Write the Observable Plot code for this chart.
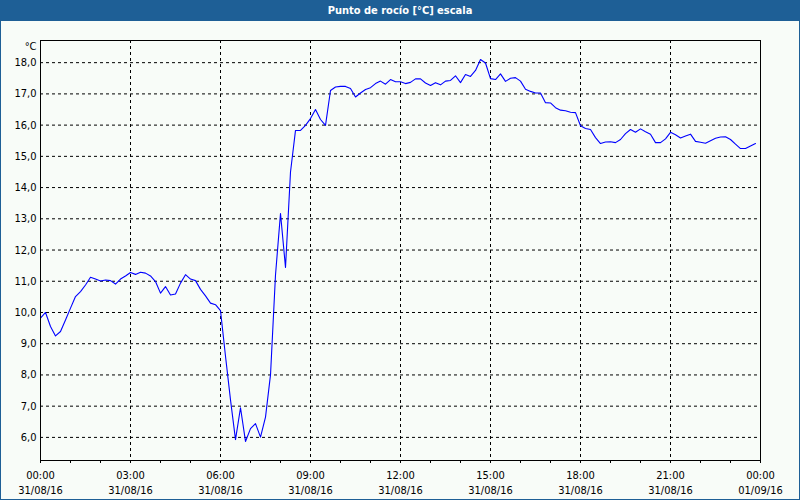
<!DOCTYPE html>
<html>
<head>
<meta charset="utf-8">
<script src="https://cdn.jsdelivr.net/npm/d3@7"></script>
<script src="https://cdn.jsdelivr.net/npm/@observablehq/plot@0.6"></script>
<style>
  html, body { margin: 0; padding: 0; background: #ffffff; }
  #wrap { position: relative; width: 800px; height: 500px; background: #f8fcf8; overflow: hidden;
          font-family: "DejaVu Sans", sans-serif; font-stretch: 87.5%; }
  #title { position: absolute; left: 0; top: 0; width: 800px; height: 21px; background: #1e5f96;
           color: #ffffff; font-weight: bold; font-size: 11px; line-height: 21px; text-align: center; }
  #chart { position: absolute; left: 0; top: 21px; }
  #border { position: absolute; left: 0; top: 0; width: 800px; height: 500px; box-sizing: border-box;
            border: 1px solid #1e5f96; pointer-events: none; }
  #chart svg { font-stretch: 87.5%; }
</style>
</head>
<body>
<div id="wrap">
  <div id="title"></div>
  <div id="chart"></div>
  <div id="border"></div>
</div>
<script>
// ---- data ----
const chartTitle = "Punto de rocío [°C] escala";
const unitLabel = ["°C"];
const startTime = "00:00 31/08/16";
const stepMinutes = 10; // sampling interval of the series
// dew point values (°C), one per 10 minutes from 00:00
const values = [
  9.82, 10.00, 9.55, 9.25, 9.39, 9.76,      // 00h
  10.14, 10.51, 10.67, 10.88, 11.13, 11.07, // 01h
  11.01, 11.04, 11.02, 10.91, 11.07, 11.17, // 02h
  11.28, 11.22, 11.29, 11.26, 11.17, 10.99, // 03h
  10.62, 10.83, 10.56, 10.59, 10.94, 11.21, // 04h
  11.07, 11.02, 10.74, 10.53, 10.30, 10.25, // 05h
  10.06, 8.60, 7.20, 5.93, 6.95, 5.87,      // 06h
  6.28, 6.44, 6.01, 6.65, 8.00, 11.20,      // 07h
  13.17, 11.44, 14.50, 15.83, 15.83, 15.99, // 08h
  16.21, 16.50, 16.18, 15.99, 17.11, 17.22, // 09h
  17.24, 17.24, 17.17, 16.90, 17.03, 17.14, // 10h
  17.20, 17.33, 17.41, 17.31, 17.46, 17.39, // 11h
  17.39, 17.33, 17.37, 17.48, 17.48, 17.35, // 12h
  17.27, 17.36, 17.29, 17.41, 17.43, 17.58, // 13h
  17.36, 17.62, 17.56, 17.75, 18.10, 17.99, // 14h
  17.49, 17.46, 17.64, 17.40, 17.50, 17.52, // 15h
  17.41, 17.15, 17.08, 17.03, 17.03, 16.72, // 16h
  16.71, 16.56, 16.48, 16.46, 16.41, 16.40, // 17h
  15.98, 15.89, 15.86, 15.60, 15.41, 15.46, // 18h
  15.47, 15.44, 15.54, 15.73, 15.86, 15.77, // 19h
  15.88, 15.79, 15.71, 15.44, 15.44, 15.56, // 20h
  15.77, 15.69, 15.59, 15.65, 15.71, 15.48, // 21h
  15.45, 15.42, 15.50, 15.58, 15.62, 15.63, // 22h
  15.54, 15.39, 15.25, 15.25, 15.33, 15.41  // 23h
];
// y ticks
const yTicks = [6, 7, 8, 9, 10, 11, 12, 13, 14, 15, 16, 17, 18];
// x ticks (minutes since start)
const xMajorTicks = [0, 180, 360, 540, 720, 900, 1080, 1260, 1440];
const xMinorTicks = [0,60,120,180,240,300,360,420,480,540,600,660,720,780,840,900,960,1020,1080,1140,1200,1260,1320,1380,1440];
const xTimeLabels = ["00:00","03:00","06:00","09:00","12:00","15:00","18:00","21:00","00:00"];
const xDateLabels = ["31/08/16","31/08/16","31/08/16","31/08/16","31/08/16","31/08/16","31/08/16","31/08/16","01/09/16"];

// ---- build ----
document.getElementById("title").textContent = chartTitle;
const data = values.map((v, i) => ({t: i * stepMinutes, v}));
const timeLabel = new Map(xMajorTicks.map((t, i) => [t, xTimeLabels[i]]));
const dateLabel = new Map(xMajorTicks.map((t, i) => [t, xDateLabels[i]]));

const chart = Plot.plot({
  width: 800,
  height: 479,
  marginLeft: 40,
  marginRight: 40,
  marginTop: 19,
  marginBottom: 40,
  style: {background: "transparent", fontFamily: "'DejaVu Sans', sans-serif", fontSize: "11px", color: "#000"},
  x: {domain: [0, 1440]},
  y: {domain: [5.26, 18.71]},
  marks: [
    Plot.gridY(yTicks, {stroke: "#000", strokeOpacity: 1, strokeDasharray: "3,3"}),
    Plot.gridX(xMajorTicks.slice(1, -1), {stroke: "#000", strokeOpacity: 1, strokeDasharray: "3,3"}),
    Plot.line(data, {x: "t", y: "v", stroke: "#0000ff", strokeWidth: 1.1}),
    Plot.frame({stroke: "#000", strokeWidth: 1}),
    Plot.axisY(yTicks, {tickSize: 0, tickPadding: 4, label: null, fill: "#000",
      tickFormat: d => d.toFixed(1).replace(".", ",")}),
    Plot.axisX(xMinorTicks, {tickSize: 3, label: null, tickFormat: () => ""}),
    Plot.axisX(xMajorTicks, {tickSize: 3, tickPadding: 8, label: null, fill: "#000",
      tickFormat: d => timeLabel.get(d)}),
    Plot.axisX(xMajorTicks, {tickSize: 0, tickPadding: 26, label: null, fill: "#000",
      tickFormat: d => dateLabel.get(d)}),
    Plot.text(unitLabel, {frameAnchor: "top-left", textAnchor: "end", lineAnchor: "middle",
      dx: -4, dy: 6, fill: "#000", fontSize: 11})
  ]
});
document.getElementById("chart").appendChild(chart);
</script>
</body>
</html>
